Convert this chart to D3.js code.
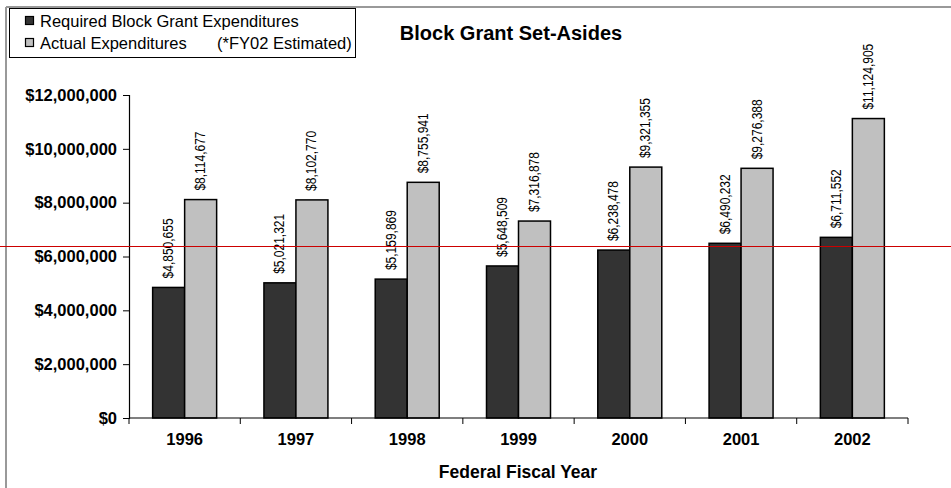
<!DOCTYPE html>
<html><head><meta charset="utf-8">
<script src="https://cdn.jsdelivr.net/npm/d3@7"></script>
<style>body{margin:0;background:#fff}svg{display:block}</style>
</head><body>
<script>
const years = ["1996","1997","1998","1999","2000","2001","2002"];
const required = [4850655,5021321,5159869,5648509,6238478,6490232,6711552];
const actual = [8114677,8102770,8755941,7316878,9321355,9276388,11124905];
const yTicks = [0,2000000,4000000,6000000,8000000,10000000,12000000];
const seriesNames = ["Required Block Grant Expenditures","Actual Expenditures"];
const title = "Block Grant Set-Asides";
const xTitle = "Federal Fiscal Year";
const note = "(*FY02 Estimated)";

const W=951,H=488;
const svg=d3.select("body").append("svg").attr("width",W).attr("height",H);
const font="Liberation Sans, Arial, sans-serif";

// chart area border
svg.append("line").attr("x1",6).attr("x2",W).attr("y1",7).attr("y2",7).attr("stroke","#999").attr("stroke-width",2);
svg.append("line").attr("x1",6).attr("x2",6).attr("y1",7).attr("y2",H).attr("stroke","#999").attr("stroke-width",2);

const y=d3.scaleLinear().domain([0,12000000]).range([418,95]);
const x0=d3.scaleBand().domain(years).range([129,908]).paddingInner(0.425).paddingOuter(0.2125);
const keys=["req","act"];
const x1=d3.scaleBand().domain(keys).range([0,x0.bandwidth()]);
const fills={req:"#333333",act:"#c0c0c0"};

const data=years.map((yr,i)=>({yr,req:required[i],act:actual[i]}));
const fmt=d3.format("$,");

const g=svg.append("g");
data.forEach(d=>{
  keys.forEach(k=>{
    const bx=x0(d.yr)+x1(k);
    g.append("rect").attr("x",bx).attr("y",y(d[k])).attr("width",x1.bandwidth()).attr("height",y(0)-y(d[k]))
      .attr("fill",fills[k]).attr("stroke","#000").attr("stroke-width",1.5);
    g.append("text").attr("transform",`translate(${bx+x1.bandwidth()/2+4.5},${y(d[k])-9}) rotate(-90) scale(1,1.18)`)
      .attr("font-family",font).attr("font-size",12).attr("fill","#000").text(fmt(d[k]));
  });
});

// y axis
const ya=svg.append("g").attr("transform","translate(129,0)")
  .call(d3.axisLeft(y).tickValues(yTicks).tickFormat(d3.format("$,")).tickSize(6).tickPadding(6));
ya.select(".domain").attr("stroke","#000").attr("stroke-width",1.2);
ya.selectAll(".tick line").attr("stroke","#000");
ya.selectAll("text").attr("font-family",font).attr("font-size",16.5).attr("font-weight","bold").attr("fill","#000");

// x axis
const xa=svg.append("g").attr("transform","translate(0,418)")
  .call(d3.axisBottom(x0).tickSize(0).tickPadding(15));
xa.select(".domain").attr("d","M129,0H908").attr("stroke","#000").attr("stroke-width",1.2);
xa.selectAll("text").attr("font-family",font).attr("font-size",16.5).attr("font-weight","bold").attr("fill","#000");
// category boundary ticks
const bounds=years.map(yr=>x0(yr)-x0.step()*x0.paddingInner()/2).concat([908]);
xa.selectAll(".btick").data(bounds).enter().append("line").attr("x1",d=>d).attr("x2",d=>d).attr("y1",0).attr("y2",6).attr("stroke","#000");

svg.append("text").attr("x",518).attr("y",478).attr("text-anchor","middle").attr("font-family",font)
  .attr("font-size",17.5).attr("font-weight","bold").text(xTitle);
svg.append("text").attr("x",511).attr("y",40).attr("text-anchor","middle").attr("font-family",font)
  .attr("font-size",20).attr("font-weight","bold").text(title);

// legend
const lg=svg.append("g");
lg.append("rect").attr("x",9.5).attr("y",8.5).attr("width",346).attr("height",49).attr("fill","#fff").attr("stroke","#000").attr("stroke-width",1);
seriesNames.forEach((s,i)=>{
  lg.append("rect").attr("x",25.5).attr("y",16.5+i*22).attr("width",8).attr("height",8).attr("fill",fills[keys[i]]).attr("stroke","#000").attr("stroke-width",1.2);
  lg.append("text").attr("x",40).attr("y",27+i*22).attr("font-family",font).attr("font-size",16.5).text(s);
});
lg.append("text").attr("x",217).attr("y",49).attr("font-family",font).attr("font-size",16.5).text(note);

// red line artifact
svg.append("line").attr("x1",0).attr("x2",W).attr("y1",246.5).attr("y2",246.5).attr("stroke","#cc0000").attr("stroke-width",1);
</script>
</body></html>
